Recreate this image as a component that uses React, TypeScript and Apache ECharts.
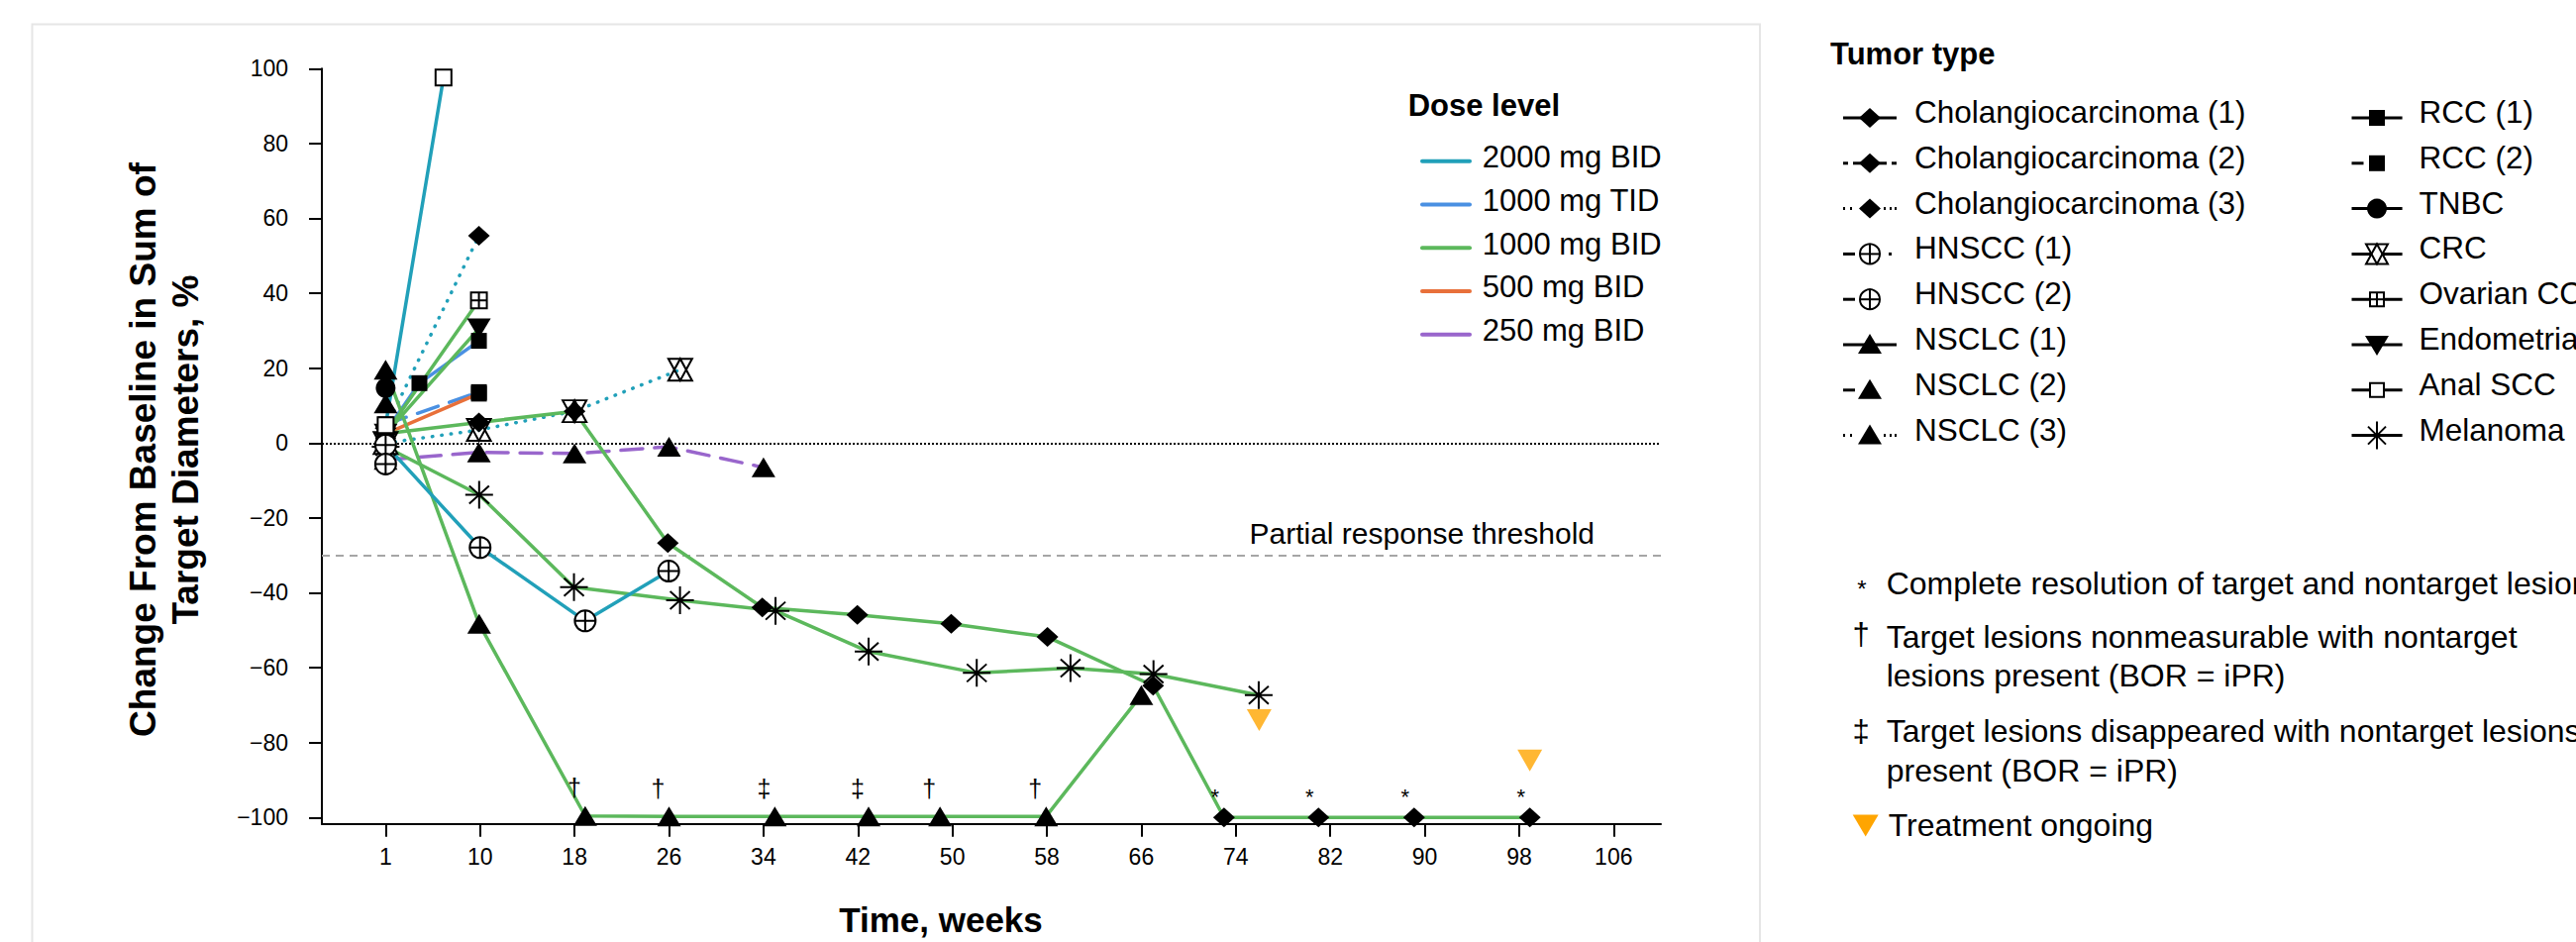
import React, { useEffect, useRef } from 'react';
import * as echarts from 'echarts';

// ---------- axes ----------
const xTickValues = [2, 10, 18, 26, 34, 42, 50, 58, 66, 74, 82, 90, 98, 106];
const xTickLabels = ['1', '10', '18', '26', '34', '42', '50', '58', '66', '74', '82', '90', '98', '106'];
const yTickValues = [-100, -80, -60, -40, -20, 0, 20, 40, 60, 80, 100];
const partialResponseThreshold = -30;

// ---------- dose levels ----------
const doseLevels = ['2000 mg BID', '1000 mg TID', '1000 mg BID', '500 mg BID', '250 mg BID'];
const doseColors = ['#21A0B9', '#4A90E2', '#5CB85C', '#E8703A', '#9966CC'];

// ---------- tumor legend ----------
const tumorCol1 = ['Cholangiocarcinoma (1)', 'Cholangiocarcinoma (2)', 'Cholangiocarcinoma (3)', 'HNSCC (1)', 'HNSCC (2)', 'NSCLC (1)', 'NSCLC (2)', 'NSCLC (3)'];
const tumorCol1Markers = ['diamond', 'diamond', 'diamond', 'circlePlus', 'circlePlus', 'triangle', 'triangle', 'triangle'];
const tumorCol1Lines = ['solid', 'dashed', 'dotted', 'dashDot', 'dashLeft', 'solid', 'dashLeft', 'dotted'];
const tumorCol2 = ['RCC (1)', 'RCC (2)', 'TNBC', 'CRC', 'Ovarian CC', 'Endometrial', 'Anal SCC', 'Melanoma'];
const tumorCol2Markers = ['square', 'square', 'circle', 'hourglass', 'squarePlus', 'triDown', 'openSquare', 'asterisk'];
const tumorCol2Lines = ['solid', 'dashLeft', 'solid', 'solid', 'solid', 'solid', 'solid', 'solid'];

// ---------- footnotes ----------
const noteSymbols = ['*', '†', '‡'];
const noteLines = [
  ['Complete resolution of target and nontarget lesions'],
  ['Target lesions nonmeasurable with nontarget', 'lesions present (BOR = iPR)'],
  ['Target lesions disappeared with nontarget lesions', 'present (BOR = iPR)'],
];
const ongoingLabel = 'Treatment ongoing';

// ---------- patient data (x = week position, y = % change) ----------
// 2000 mg BID
const analSccWeeks = [2, 6.9];
const analSccPct = [4.8, 97.6];
const cholangio3Weeks = [2, 9.9];
const cholangio3Pct = [4.0, 55.4];
const crcWeeks = [2, 9.9, 18.0, 26.95];
const crcPct = [0, 3.5, 8.5, 19.6];
const hnscc2Weeks = [2, 10.0, 18.9, 25.97];
const hnscc2Pct = [-0.5, -27.9, -47.5, -34.2];
const hnscc1Weeks = [2];
const hnscc1Pct = [-5.6];
// 1000 mg TID
const rcc1Weeks = [2, 4.86, 9.9];
const rcc1Pct = [3.0, 16.0, 27.3];
const rcc2TidWeeks = [2, 9.9];
const rcc2TidPct = [5.0, 13.6];
// 1000 mg BID
const ovarianWeeks = [2, 9.9];
const ovarianPct = [2.5, 38.1];
const endometrialWeeks = [2, 9.9];
const endometrialPct = [2.5, 30.6];
const cholangio1Weeks = [2, 9.9, 18.0, 25.9, 33.9, 41.95, 49.9, 58.05, 67.0, 73.0, 81.0, 89.1, 98.9];
const cholangio1Pct = [2.5, 5.5, 8.5, -26.7, -43.9, -45.9, -48.3, -51.8, -64.8, -100, -100, -100, -100];
const cholangio1Notes = ['', '', '', '', '', '', '', '', '', '*', '*', '*', '*'];
const melanomaWeeks = [2, 9.92, 17.95, 26.93, 35.02, 42.9, 52.06, 60.0, 67.03, 75.94];
const melanomaPct = [-1, -13.8, -38.5, -42.0, -44.8, -55.7, -61.4, -60.1, -61.7, -67.3];
const nsclc1Weeks = [2, 9.92, 18.9, 26.0, 34.96, 42.9, 48.95, 57.94, 66.0];
const nsclc1Pct = [19.6, -48.3, -99.6, -99.7, -99.7, -99.7, -99.7, -99.7, -67.3];
const nsclc1Notes = ['', '', '†', '†', '‡', '‡', '†', '†', ''];
// 500 mg BID
const rcc2BidWeeks = [2, 9.9];
const rcc2BidPct = [2.5, 13.2];
// 250 mg BID
const nsclc2Weeks = [2, 9.9, 18.0, 26.0, 34.0];
const nsclc2Pct = [-4.5, -2.5, -2.8, -1.0, -6.5];
// baseline only
const tnbcWeeks = [2];
const tnbcPct = [14.7];
const nsclc3Weeks = [2];
const nsclc3Pct = [10.6];
// treatment ongoing markers
const ongoingWeeks = [75.98, 98.9];
const ongoingPct = [-74.0, -84.8];

// patient list: [name, weeks, pct, marker, doseIndex, lineType, notes]
const patients: any[] = [
  ['NSCLC (2)', nsclc2Weeks, nsclc2Pct, 'triangle', 4, 'dash', null],
  ['RCC (2) 1000 TID', rcc2TidWeeks, rcc2TidPct, 'square', 1, 'dash', null],
  ['RCC (2) 500 BID', rcc2BidWeeks, rcc2BidPct, 'square', 3, 'solid', null],
  ['RCC (1)', rcc1Weeks, rcc1Pct, 'square', 1, 'solid', null],
  ['Cholangiocarcinoma (3)', cholangio3Weeks, cholangio3Pct, 'diamond', 0, 'dot', null],
  ['CRC', crcWeeks, crcPct, 'hourglass', 0, 'dot', null],
  ['Ovarian CC', ovarianWeeks, ovarianPct, 'squarePlus', 2, 'solid', null],
  ['Endometrial', endometrialWeeks, endometrialPct, 'triDown', 2, 'solid', null],
  ['Melanoma', melanomaWeeks, melanomaPct, 'asterisk', 2, 'solid', null],
  ['NSCLC (1)', nsclc1Weeks, nsclc1Pct, 'triangle', 2, 'solid', nsclc1Notes],
  ['Cholangiocarcinoma (1)', cholangio1Weeks, cholangio1Pct, 'diamond', 2, 'solid', cholangio1Notes],
  ['HNSCC (2)', hnscc2Weeks, hnscc2Pct, 'circlePlus', 0, 'solid', null],
  ['Anal SCC', analSccWeeks, analSccPct, 'openSquare', 0, 'solid', null],
  ['HNSCC (1)', hnscc1Weeks, hnscc1Pct, 'circlePlus', 0, 'solid', null],
  ['TNBC', tnbcWeeks, tnbcPct, 'circle', 2, 'solid', null],
  ['NSCLC (3)', nsclc3Weeks, nsclc3Pct, 'triangle', 2, 'solid', null],
];

const FONT = '"Liberation Sans", Arial, Helvetica, sans-serif';

const markerSpec: Record<string, any> = {
  diamond: { symbol: 'diamond', size: [22, 20], fill: '#000', border: 0 },
  triangle: { symbol: 'triangle', size: [24, 20], fill: '#000', border: 0 },
  triDown: { symbol: 'triangle', size: [24, 20], fill: '#000', border: 0, rotate: 180 },
  square: { symbol: 'rect', size: 16, fill: '#000', border: 0 },
  openSquare: { symbol: 'rect', size: 16, fill: '#fff', border: 2 },
  circle: { symbol: 'circle', size: 20, fill: '#000', border: 0 },
  circlePlus: { symbol: 'path://M-10,0A10,10,0,1,0,10,0A10,10,0,1,0,-10,0ZM0,-10L0,10M-10,0L10,0', size: 21, fill: '#fff', border: 2 },
  squarePlus: { symbol: 'path://M-8,-8L8,-8L8,8L-8,8ZM0,-8L0,8M-8,0L8,0', size: 16, fill: '#fff', border: 2 },
  hourglass: { symbol: 'path://M-11,-10L11,-10L0,10ZM-11,10L11,10L0,-10Z', size: [24, 22], fill: '#fff', border: 2 },
  asterisk: { symbol: 'path://M0,-14L0,14M-14,0L14,0M-10,-9L10,9M-10,9L10,-9', size: 28, fill: 'rgba(0,0,0,0)', border: 2 },
};

function lineType(t: string): any {
  if (t === 'dash') return [22, 12];
  if (t === 'dot') return [0.5, 9];
  return 'solid';
}

function patientSeries(p: any[]): any {
  const [name, weeks, pct, marker, dose, lt, notes] = p;
  const m = markerSpec[marker];
  const isDagger = notes === nsclc1Notes;
  return {
    type: 'line',
    name,
    silent: true,
    data: weeks.map((w: number, i: number) => [w, pct[i]]),
    symbol: m.symbol,
    symbolSize: m.size,
    symbolRotate: m.rotate || 0,
    showSymbol: true,
    showAllSymbol: true,
    itemStyle: { color: m.fill, borderColor: '#000', borderWidth: m.border, opacity: 1 },
    lineStyle: { color: doseColors[dose], width: 3.5, type: lineType(lt), cap: 'round' },
    label: notes
      ? {
          show: true,
          position: 'top',
          distance: isDagger ? 6 : 0,
          offset: [isDagger ? -11 : -9, 0],
          fontSize: isDagger ? 25 : 22,
          fontFamily: FONT,
          color: '#000',
          formatter: (prm: any) => notes[prm.dataIndex] || '',
        }
      : { show: false },
    z: 3,
  };
}

// ---------- legend drawing helpers ----------
function markerGraphic(type: string, cx: number, cy: number): any[] {
  const blk = { fill: '#000' };
  const open = { fill: '#fff', stroke: '#000', lineWidth: 2 };
  const ln = (x1: number, y1: number, x2: number, y2: number) => ({
    type: 'line', shape: { x1, y1, x2, y2 }, style: { stroke: '#000', lineWidth: 2 },
  });
  switch (type) {
    case 'diamond':
      return [{ type: 'polygon', shape: { points: [[cx, cy - 10], [cx + 11, cy], [cx, cy + 10], [cx - 11, cy]] }, style: blk }];
    case 'triangle':
      return [{ type: 'polygon', shape: { points: [[cx, cy - 11], [cx + 12, cy + 9], [cx - 12, cy + 9]] }, style: blk }];
    case 'triDown':
      return [{ type: 'polygon', shape: { points: [[cx - 12, cy - 9], [cx + 12, cy - 9], [cx, cy + 11]] }, style: blk }];
    case 'square':
      return [{ type: 'rect', shape: { x: cx - 8, y: cy - 8, width: 16, height: 16 }, style: blk }];
    case 'openSquare':
      return [{ type: 'rect', shape: { x: cx - 7, y: cy - 7, width: 14, height: 14 }, style: open }];
    case 'circle':
      return [{ type: 'circle', shape: { cx, cy, r: 10 }, style: blk }];
    case 'circlePlus':
      return [{ type: 'circle', shape: { cx, cy, r: 10 }, style: open }, ln(cx, cy - 10, cx, cy + 10), ln(cx - 10, cy, cx + 10, cy)];
    case 'squarePlus':
      return [{ type: 'rect', shape: { x: cx - 7, y: cy - 7, width: 14, height: 14 }, style: open }, ln(cx, cy - 7, cx, cy + 7), ln(cx - 7, cy, cx + 7, cy)];
    case 'hourglass':
      return [
        { type: 'polygon', shape: { points: [[cx - 11, cy - 10], [cx + 11, cy - 10], [cx, cy + 10]] }, style: open },
        { type: 'polygon', shape: { points: [[cx - 11, cy + 10], [cx + 11, cy + 10], [cx, cy - 10]] }, style: { fill: 'none', stroke: '#000', lineWidth: 2 } },
      ];
    case 'asterisk':
      return [ln(cx, cy - 14, cx, cy + 14), ln(cx - 9, cy - 9, cx + 9, cy + 9), ln(cx - 9, cy + 9, cx + 9, cy - 9)];
    default:
      return [];
  }
}

function legendLine(style: string, x0: number, x1: number, y: number): any[] {
  const st = (extra: any = {}) => ({ stroke: '#000', lineWidth: 3, ...extra });
  const seg = (a: number, b: number, extra: any = {}) => ({ type: 'line', shape: { x1: a, y1: y, x2: b, y2: y }, style: st(extra) });
  switch (style) {
    case 'dashed':
      return [seg(x0, x0 + 5), seg(x0 + 10, x0 + 18), seg(x1 - 18, x1 - 10), seg(x1 - 5, x1)];
    case 'dotted':
      return [seg(x0, x0 + 2), seg(x0 + 7, x0 + 9), seg(x1 - 13, x1 - 11), seg(x1 - 7, x1 - 5), seg(x1 - 2, x1)];
    case 'dashLeft':
      return [seg(x0, x0 + 12)];
    case 'dashDot':
      return [seg(x0, x0 + 12), seg(x1 - 8, x1 - 5)];
    default:
      return [seg(x0, x1)];
  }
}

function textEl(text: string, x: number, y: number, size: number, bold = false, align = 'left'): any {
  return {
    type: 'text',
    x,
    y,
    style: {
      text,
      font: `${bold ? 'bold ' : ''}${size}px ${FONT}`,
      fill: '#000',
      align,
      verticalAlign: 'middle',
    },
  };
}

function buildGraphic(): any[] {
  const g: any[] = [];
  // left panel frame
  g.push({ type: 'rect', z: -10, shape: { x: 32.5, y: 24.5, width: 1744.5, height: 1000 }, style: { fill: 'none', stroke: '#e6e6e6', lineWidth: 2 } });
  // axis titles
  g.push({
    type: 'text', x: 166, y: 454, rotation: Math.PI / 2,
    style: { text: 'Change From Baseline in Sum of\nTarget Diameters, %', font: `bold 37px ${FONT}`, fill: '#000', align: 'center', verticalAlign: 'middle', lineHeight: 43 },
  });
  g.push(textEl('Time, weeks', 950, 928, 35, true, 'center'));
  // dose legend
  g.push(textEl('Dose level', 1421.7, 106.7, 31, true));
  doseLevels.forEach((d, i) => {
    const y = 162.7 + i * 43.75;
    g.push({ type: 'line', shape: { x1: 1436, y1: y, x2: 1484, y2: y }, style: { stroke: doseColors[i], lineWidth: 4, lineCap: 'round' } });
    g.push(textEl(d, 1496.7, y - 4, 31));
  });
  // tumor legend
  g.push(textEl('Tumor type', 1848, 54.2, 31, true));
  const cols = [
    { names: tumorCol1, markers: tumorCol1Markers, lines: tumorCol1Lines, x0: 1861, x1: 1915, mx: 1888, tx: 1933 },
    { names: tumorCol2, markers: tumorCol2Markers, lines: tumorCol2Lines, x0: 2374.5, x1: 2425.6, mx: 2400, tx: 2442.5 },
  ];
  cols.forEach((c) => {
    c.names.forEach((nm, i) => {
      const y = 119 + i * 45.8;
      g.push(...legendLine(c.lines[i], c.x0, c.x1, y));
      g.push(...markerGraphic(c.markers[i], c.mx, y));
      g.push(textEl(nm, c.tx, y - 6, 31.5));
    });
  });
  // footnotes
  g.push(textEl(noteSymbols[0], 1880, 594, 24, false, 'center'));
  g.push(textEl(noteLines[0][0], 1904.7, 589, 32));
  g.push(textEl(noteSymbols[1], 1879, 640, 31, false, 'center'));
  g.push(textEl(noteLines[1][0], 1904.7, 643, 32));
  g.push(textEl(noteLines[1][1], 1904.7, 682, 32));
  g.push(textEl(noteSymbols[2], 1879, 738, 31, false, 'center'));
  g.push(textEl(noteLines[2][0], 1904.7, 738, 32));
  g.push(textEl(noteLines[2][1], 1904.7, 778, 32));
  g.push({ type: 'polygon', shape: { points: [[1870.7, 822.5], [1896.7, 822.5], [1883.7, 844.5]] }, style: { fill: '#FFA500' } });
  g.push(textEl(ongoingLabel, 1906.7, 833, 32));
  return g;
}

function buildOption(): any {
  const series: any[] = patients.map(patientSeries);
  series.push({
    type: 'scatter',
    name: ongoingLabel,
    silent: true,
    data: ongoingWeeks.map((w, i) => [w, ongoingPct[i]]),
    symbol: 'triangle',
    symbolRotate: 180,
    symbolSize: [25, 22],
    itemStyle: { color: '#FFA500' },
    z: 5,
    markLine: {
      silent: true,
      symbol: ['none', 'none'],
      z: 1,
      data: [
        { yAxis: 0, lineStyle: { type: [2, 2], color: '#000', width: 2 }, label: { show: false } },
        {
          yAxis: partialResponseThreshold,
          lineStyle: { type: [8, 6], color: '#a6a6a6', width: 2 },
          label: {
            show: true,
            position: 'insideEndTop',
            formatter: 'Partial response threshold',
            fontSize: 30,
            fontFamily: FONT,
            color: '#000',
            padding: [0, 62, 2, 0],
          },
        },
      ],
    },
  });

  const minus = (v: number) => (v < 0 ? '\u2212' + Math.abs(v) : String(v));

  return {
    animation: false,
    backgroundColor: '#fff',
    grid: { left: 325, right: 924, top: 69.3, bottom: 119.3, containLabel: false },
    xAxis: {
      type: 'value',
      min: -3.4,
      max: 110,
      axisLine: { show: true, onZero: false, lineStyle: { color: '#000', width: 2 } },
      axisTick: { show: true, customValues: xTickValues, length: 13, lineStyle: { color: '#000', width: 2 } },
      axisLabel: {
        show: true,
        customValues: xTickValues,
        formatter: (v: number) => {
          const i = xTickValues.indexOf(v);
          return i >= 0 ? xTickLabels[i] : '';
        },
        fontSize: 23,
        fontFamily: FONT,
        color: '#000',
        margin: 22,
      },
      splitLine: { show: false },
    },
    yAxis: {
      type: 'value',
      min: -101.7,
      max: 100,
      axisLine: { show: true, onZero: false, lineStyle: { color: '#000', width: 2 } },
      axisTick: { show: true, customValues: yTickValues, length: 13, lineStyle: { color: '#000', width: 2 } },
      axisLabel: {
        show: true,
        customValues: yTickValues,
        formatter: minus,
        fontSize: 23,
        fontFamily: FONT,
        color: '#000',
        margin: 34,
      },
      splitLine: { show: false },
    },
    series,
    graphic: buildGraphic(),
  };
}

export default function App() {
  const ref = useRef<HTMLDivElement>(null);
  useEffect(() => {
    document.body.style.margin = '0';
    const chart = echarts.init(ref.current!, null, { renderer: 'svg' });
    chart.setOption(buildOption());
    return () => chart.dispose();
  }, []);
  return (
    <div
      ref={ref}
      style={{ position: 'fixed', left: 0, top: 0, width: 2601, height: 951, background: '#fff' }}
    />
  );
}
